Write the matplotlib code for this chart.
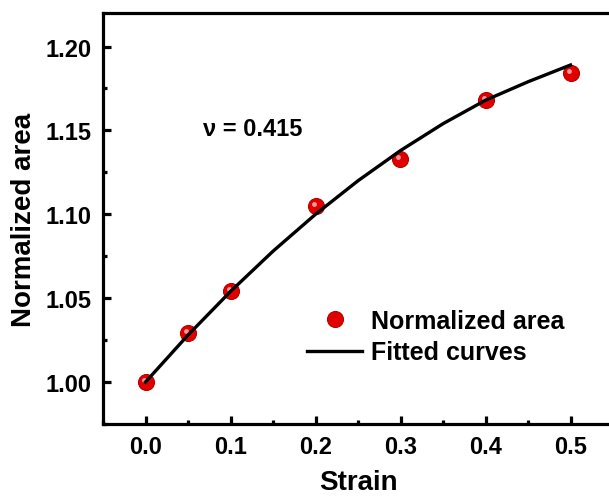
import matplotlib

matplotlib.use("Agg")
import matplotlib.pyplot as plt
import matplotlib.transforms as mtransforms
from matplotlib.lines import Line2D
from matplotlib.ticker import MultipleLocator

strain = [0.0, 0.05, 0.1, 0.2, 0.3, 0.4, 0.5]
norm_area = [1.000, 1.029, 1.054, 1.105, 1.133, 1.168, 1.184]

fit_strain = [0.0, 0.05, 0.1, 0.15, 0.2, 0.25, 0.3, 0.35, 0.4, 0.45, 0.5]
fit_area = [1.000, 1.028, 1.054, 1.078, 1.100, 1.120, 1.138, 1.154, 1.168, 1.179, 1.189]

nu_label = "\u03bd = 0.415"

plt.rcParams["font.family"] = ["Liberation Sans", "DejaVu Sans"]
plt.rcParams["font.weight"] = "bold"

fig = plt.figure(figsize=(6.09, 5.02), dpi=100)
# right edge of the frame falls outside the picture, as in the original
ax = fig.add_axes([103 / 609, 1 - 425 / 502, 510 / 609, 411 / 502])

ax.plot(strain, norm_area, "o", ms=11.5, mfc="#e00000", mec="#b80000", mew=0.8, zorder=2)
# small highlight to give the sphere look
shift = mtransforms.ScaledTranslation(-2 / 100, 2 / 100, fig.dpi_scale_trans)
ax.plot(strain, norm_area, "o", ms=3.5, mfc="white", mec="none", alpha=0.6,
        transform=ax.transData + shift, zorder=2.5)
ax.plot(fit_strain, fit_area, color="black", lw=2.4, zorder=3)

ax.set_xlim(-0.05, 0.55)
ax.set_ylim(0.975, 1.22)
ax.xaxis.set_major_locator(MultipleLocator(0.1))
ax.xaxis.set_minor_locator(MultipleLocator(0.05))
ax.yaxis.set_major_locator(MultipleLocator(0.05))
ax.yaxis.set_minor_locator(MultipleLocator(0.025))
ax.xaxis.set_major_formatter(lambda v, p: f"{v:.1f}")
ax.yaxis.set_major_formatter(lambda v, p: f"{v:.2f}")

for s in ax.spines.values():
    s.set_linewidth(2.3)
ax.tick_params(which="major", direction="in", length=6, width=2.3, labelsize=17, pad=8)
ax.tick_params(which="minor", direction="in", length=3, width=2.3)

ax.set_xlabel("Strain", fontsize=20, fontweight="bold", labelpad=8)
ax.set_ylabel("Normalized area", fontsize=20, fontweight="bold", labelpad=6)

ax.text(0.068, 1.151, nu_label, fontsize=17, fontweight="bold", va="center", ha="left")

handles = [
    Line2D([], [], ls="none", marker="o", ms=11.5, mfc="#e00000", mec="#b80000", mew=0.8),
    Line2D([], [], color="black", lw=2.4),
]
ax.legend(handles, ["Normalized area", "Fitted curves"], loc="upper left",
          bbox_to_anchor=(194 / 510, 1 - 286 / 411), frameon=False,
          prop={"size": 18, "weight": "bold"}, handlelength=2.2,
          handletextpad=0.35, labelspacing=0.3, borderaxespad=0)

fig.savefig("out.png", dpi=100)
